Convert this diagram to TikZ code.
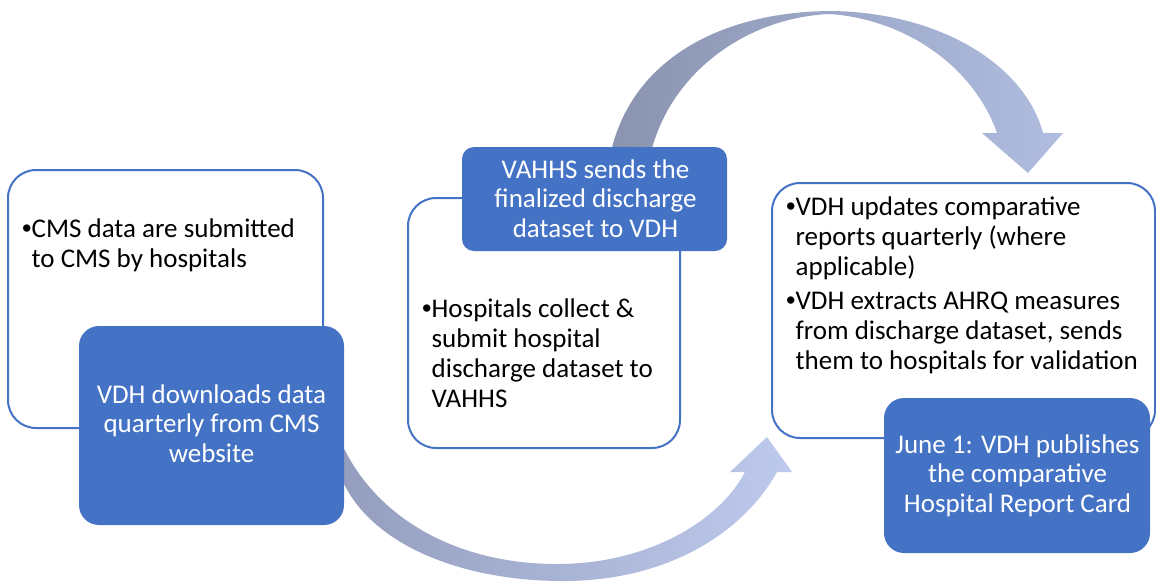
\documentclass[tikz,border=0pt]{standalone}
\usepackage{fontspec}
\setmainfont{Carlito}
\newfontfamily\bulletfont{Liberation Sans}
\newcommand\bul{{\bulletfont\textbullet}}
\definecolor{vdhblue}{HTML}{4472C4}
\definecolor{arcdark}{RGB}{138,148,176}
\definecolor{arclight}{RGB}{176,189,224}
\definecolor{botdark}{RGB}{148,157,189}
\definecolor{botlight}{RGB}{190,202,237}
\tikzset{
  wbox/.style={draw=vdhblue, line width=2pt, fill=white, rounded corners=28pt, inner sep=0pt},
  bluebox/.style={fill=vdhblue, draw=none, inner sep=0pt},
  btxt/.style={inner sep=0pt, anchor=base west, text=black, font=\fontsize{27}{30}\selectfont},
  wtxt/.style={inner sep=0pt, anchor=base, text=white, font=\fontsize{27}{29.5}\selectfont},
}
\begin{document}
\begin{tikzpicture}[x=1pt,y=-1pt]
\path[use as bounding box] (0,0) rectangle (1156,582);
% top circular arrow
\path[shading=axis, left color=arcdark, right color=arclight]
  (610,156) .. controls (630,60) and (720,12) .. (830,11)
  .. controls (940,12) and (1025,65) .. (1043,133)
  -- (1063,133) -- (1028,173) -- (982,133) -- (997,133)
  .. controls (975,70) and (910,20) .. (830,14)
  .. controls (750,17) and (670,70) .. (650,156) -- cycle;
% bottom circular arrow
\path[shading=axis, left color=botdark, right color=botlight]
  (336,460) .. controls (350,530) and (440,580) .. (560,581)
  .. controls (670,582) and (745,530) .. (777,472)
  -- (792,472) -- (767,437) -- (730,472) -- (745,472)
  .. controls (720,520) and (650,563) .. (560,564)
  .. controls (460,565) and (375,520) .. (340,440) -- cycle;
% white boxes
\node[wbox, minimum width=315pt, minimum height=258pt] (w1) at (165.5,299) {};
\node[wbox, minimum width=272pt, minimum height=250pt] (w2) at (544,323) {};
\node[wbox, minimum width=383pt, minimum height=255pt] (w3) at (963.5,310.5) {};
% blue boxes
\node[bluebox, rounded corners=20pt, minimum width=265pt, minimum height=199pt] (b1) at (211.5,425.5) {};
\node[bluebox, rounded corners=12pt, minimum width=265pt, minimum height=104pt] (b2) at (594.5,199) {};
\node[bluebox, rounded corners=20pt, minimum width=266pt, minimum height=155pt] (b3) at (1017,475.5) {};
% texts in white boxes
\node[btxt] (t1) at (22,237) {\parbox[t]{320pt}{\bul CMS data are submitted\\\hphantom{\bul}to CMS by hospitals}};
\node[btxt] (t2) at (422,317) {\parbox[t]{300pt}{\bul Hospitals collect \&\\\hphantom{\bul}submit hospital\\\hphantom{\bul}discharge dataset to\\\hphantom{\bul}VAHHS}};
\node[btxt] (t3) at (786,215) {\parbox[t]{380pt}{\bul VDH updates comparative\\\hphantom{\bul}reports quarterly (where\\\hphantom{\bul}applicable)\\[4pt]\bul VDH extracts AHRQ measures\\\hphantom{\bul}from discharge dataset, sends\\\hphantom{\bul}them to hospitals for validation}};
% texts in blue boxes
\node[wtxt] (s1) at (211.5,403) {\parbox[t]{300pt}{\centering VDH downloads data\\quarterly from CMS\\website}};
\node[wtxt] (s2) at (595.5,178) {\parbox[t]{300pt}{\centering VAHHS sends the\\finalized discharge\\dataset to VDH}};
\node[wtxt] (s3) at (1017.5,453) {\parbox[t]{300pt}{\centering June 1: VDH publishes\\the comparative\\Hospital Report Card}};
\end{tikzpicture}
\end{document}
